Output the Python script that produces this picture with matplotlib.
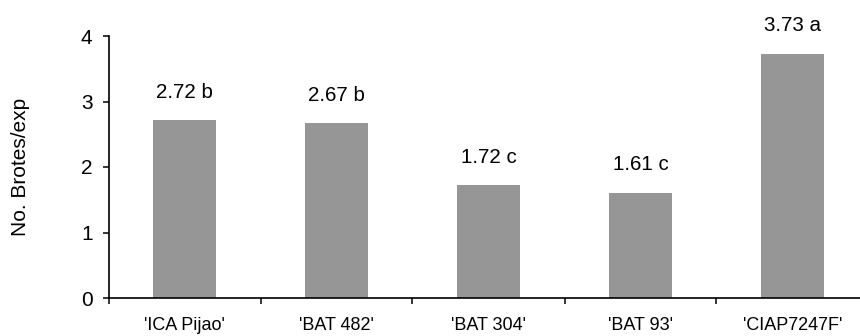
import numpy as np
import matplotlib.pyplot as plt
from matplotlib.ticker import FixedLocator

plt.rcParams['font.family'] = ['Liberation Sans', 'DejaVu Sans']

cultivars = ["'ICA Pijao'", "'BAT 482'", "'BAT 304'", "'BAT 93'", "'CIAP7247F'"]
brotes = [2.72, 2.67, 1.72, 1.61, 3.73]
letters = ['b', 'b', 'c', 'c', 'a']

fig = plt.figure(figsize=(8.6, 3.36), dpi=100)
ax = fig.add_axes([108.5/860, 38/336, 760/860, 262/336])

x = np.arange(len(cultivars))
ax.bar(x, brotes, width=0.42, color='#969696')

for xi, v, l in zip(x, brotes, letters):
    ax.annotate(f'{v:.2f} {l}', (xi, v), xytext=(0, 16), textcoords='offset points',
                ha='center', va='baseline', fontsize=14.8)

ax.set_xlim(-0.5, len(cultivars) - 0.5)
ax.set_ylim(0, 4)
ax.set_yticks([0, 1, 2, 3, 4])
ax.set_xticks(x)
ax.set_xticklabels(cultivars)
ax.xaxis.set_minor_locator(FixedLocator(np.arange(len(cultivars) + 1) - 0.5))
ax.tick_params(axis='x', which='major', length=0, pad=13.5, labelsize=13)
ax.tick_params(axis='x', which='minor', length=4.5, width=1.1, direction='out')
ax.tick_params(axis='y', length=4.5, width=1.1, pad=7, labelsize=15)

for s in ['top', 'right']:
    ax.spines[s].set_visible(False)
for s in ['left', 'bottom']:
    ax.spines[s].set_linewidth(1.2)
    ax.spines[s].set_color('black')

ax.set_ylabel('No. Brotes/exp', fontsize=15)
ax.yaxis.set_label_coords(-79/760, 0.5)

fig.savefig('out.png', dpi=100)
